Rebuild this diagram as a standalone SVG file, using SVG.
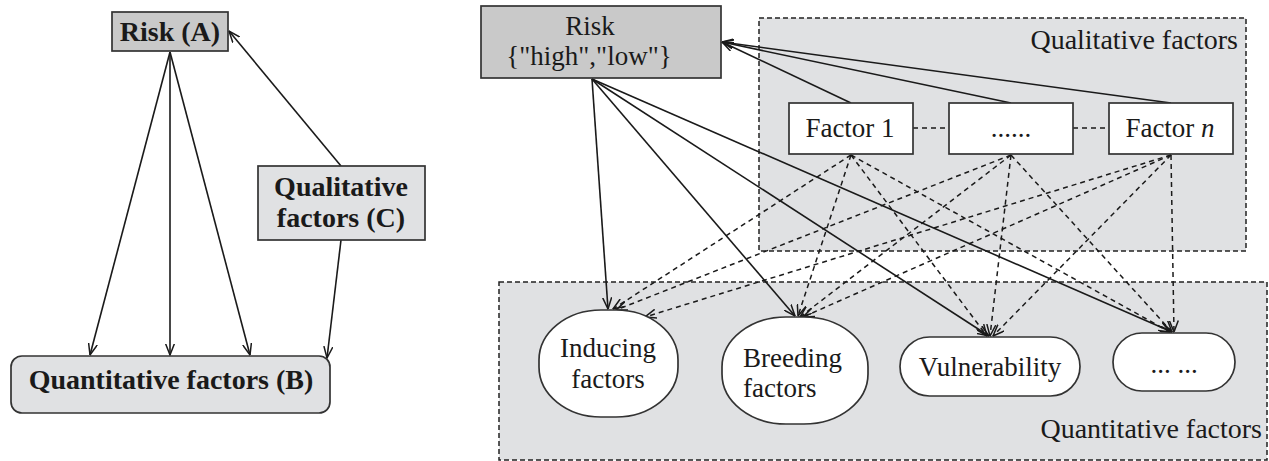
<svg xmlns="http://www.w3.org/2000/svg" width="1269" height="461" viewBox="0 0 1269 461">
<style>
text{font-family:'Liberation Serif','Times New Roman',Times,'DejaVu Serif',serif;fill:#1a1a1a;text-anchor:middle}
.bt{font-weight:bold;font-size:28px}
.t{font-size:27px}
.box{stroke:#333;stroke-width:1.7}
.dark{fill:#c9c9c9}
.light{fill:#e0e1e3}
.white{fill:#fff}
.region{fill:#e0e1e3;stroke:#222;stroke-width:1.5;stroke-dasharray:5,3}
.s{fill:none;stroke:#1a1a1a;stroke-width:1.6}
.d{fill:none;stroke:#1a1a1a;stroke-width:1.5;stroke-dasharray:5,4}
</style>
<defs>
<marker id="arr" viewBox="0 0 12 10" refX="11.5" refY="5" markerWidth="12" markerHeight="10" orient="auto" markerUnits="userSpaceOnUse">
<path d="M0,0.5 L11.5,5 L0,9.5" fill="none" stroke="#1a1a1a" stroke-width="1.5"/>
</marker>
</defs>
<rect width="1269" height="461" fill="#fff"/>

<g id="left-connectors">
<line class="s" x1="170" y1="52" x2="90" y2="355" marker-end="url(#arr)"/>
<line class="s" x1="170" y1="52" x2="170" y2="355" marker-end="url(#arr)"/>
<line class="s" x1="170" y1="52" x2="250" y2="355" marker-end="url(#arr)"/>
<line class="s" x1="341" y1="166" x2="229" y2="31" marker-end="url(#arr)"/>
<line class="s" x1="341" y1="240" x2="327" y2="358" marker-end="url(#arr)"/>
</g>
<g id="nodeA">
<rect class="box dark" x="112" y="12" width="116" height="39"/>
<text class="bt" x="170" y="41">Risk (A)</text>
</g>
<g id="nodeC">
<rect class="box light" x="258" y="166" width="167" height="74"/>
<text class="bt" x="341" y="196">Qualitative</text>
<text class="bt" x="341" y="227">factors (C)</text>
</g>
<g id="nodeB">
<rect class="box light" x="11" y="356" width="319" height="57" rx="11"/>
<text class="bt" x="171" y="389">Quantitative factors (B)</text>
</g>

<g id="region-qualitative">
<rect class="region" x="759" y="18" width="487" height="233"/>
<text class="t" x="1238" y="49" style="text-anchor:end;font-size:28px">Qualitative factors</text>
</g>
<g id="region-quantitative">
<rect class="region" x="499" y="282" width="768" height="178"/>
<text class="t" x="1262" y="438" style="text-anchor:end;font-size:28px">Quantitative factors</text>
</g>

<g id="connectors">
<line class="s" x1="851" y1="103" x2="722" y2="42" marker-end="url(#arr)"/>
<line class="s" x1="1011" y1="103" x2="722" y2="42" marker-end="url(#arr)"/>
<line class="s" x1="1171" y1="103" x2="722" y2="42" marker-end="url(#arr)"/>
<line class="s" x1="592" y1="79" x2="608" y2="309" marker-end="url(#arr)"/>
<line class="s" x1="592" y1="79" x2="795" y2="316" marker-end="url(#arr)"/>
<line class="s" x1="592" y1="79" x2="989" y2="336" marker-end="url(#arr)"/>
<line class="s" x1="592" y1="79" x2="1172" y2="332" marker-end="url(#arr)"/>
<line class="d" x1="913" y1="128" x2="949" y2="128"/>
<line class="d" x1="1073" y1="128" x2="1109" y2="128"/>
<line class="d" x1="851" y1="155" x2="613" y2="309" marker-end="url(#arr)"/>
<line class="d" x1="851" y1="155" x2="798" y2="316" marker-end="url(#arr)"/>
<line class="d" x1="851" y1="155" x2="987" y2="336" marker-end="url(#arr)"/>
<line class="d" x1="851" y1="155" x2="1170" y2="332" marker-end="url(#arr)"/>
<line class="d" x1="1011" y1="155" x2="616" y2="310" marker-end="url(#arr)"/>
<line class="d" x1="1011" y1="155" x2="800" y2="317" marker-end="url(#arr)"/>
<line class="d" x1="1011" y1="155" x2="990" y2="336" marker-end="url(#arr)"/>
<line class="d" x1="1011" y1="155" x2="1172" y2="332" marker-end="url(#arr)"/>
<line class="d" x1="1171" y1="155" x2="645" y2="317" marker-end="url(#arr)"/>
<line class="d" x1="1171" y1="155" x2="803" y2="317" marker-end="url(#arr)"/>
<line class="d" x1="1171" y1="155" x2="993" y2="336" marker-end="url(#arr)"/>
<line class="d" x1="1171" y1="155" x2="1174" y2="332" marker-end="url(#arr)"/>
</g>

<g id="risk">
<rect class="box dark" x="481" y="6" width="240" height="72"/>
<text class="t" x="590" y="35">Risk</text>
<text class="t" x="589" y="65">{"high","low"}</text>
</g>
<g id="factor1">
<rect class="box white" x="789" y="103" width="124" height="51"/>
<text class="t" x="850" y="137">Factor 1</text>
</g>
<g id="factor-dots">
<rect class="box white" x="949" y="103" width="124" height="51"/>
<text class="t" x="1011" y="137">......</text>
</g>
<g id="factorn">
<rect class="box white" x="1109" y="103" width="124" height="51"/>
<text class="t" x="1170" y="137">Factor <tspan font-style="italic">n</tspan></text>
</g>
<g id="inducing">
<rect class="box white" x="539" y="310" width="139" height="107" rx="62" ry="50"/>
<text class="t" x="608" y="357">Inducing</text>
<text class="t" x="608" y="388">factors</text>
</g>
<g id="breeding">
<rect class="box white" x="722" y="317" width="146" height="107" rx="64" ry="50"/>
<text class="t" x="743" y="367" style="text-anchor:start">Breeding</text>
<text class="t" x="743" y="397" style="text-anchor:start">factors</text>
</g>
<g id="vulnerability">
<rect class="box white" x="900" y="337" width="180" height="59" rx="29.5"/>
<text class="t" x="990" y="376">Vulnerability</text>
</g>
<g id="more">
<rect class="box white" x="1113" y="333" width="122" height="58" rx="29"/>
<text class="t" x="1174" y="373">... ...</text>
</g>
</svg>
